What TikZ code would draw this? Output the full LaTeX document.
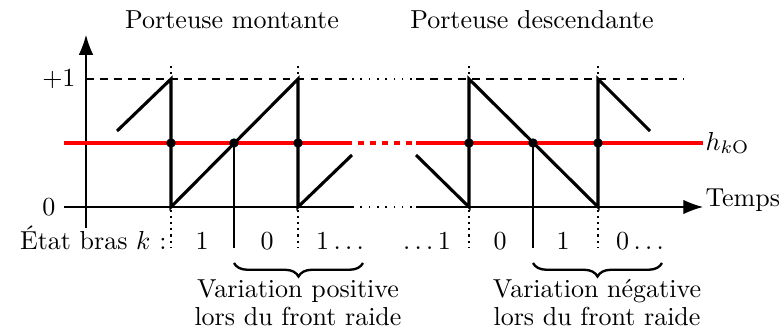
\documentclass[tikz,border=0pt]{standalone}
\usetikzlibrary{arrows.meta,decorations.pathreplacing}
\begin{document}
\begin{tikzpicture}[x=0.3846pt,y=-0.3846pt,
  axisline/.style={line width=0.45pt},
  sawline/.style={line width=1.2pt, line join=miter, line cap=butt},
  hred/.style={red, line width=1.9pt},
  guide/.style={line width=0.4pt, dash pattern=on 3pt off 2.4pt},
  dotguide/.style={line width=0.4pt, dash pattern=on 0.6pt off 2.6pt},
  vguide/.style={line width=0.4pt, dash pattern=on 0.8pt off 1.6pt},
  thinline/.style={line width=0.4pt},
  dotpt/.style={circle, fill=black, inner sep=0pt, minimum size=3.6pt},
  lbl/.style={inner sep=0pt},
  tip/.style={-{Latex[length=7.6pt,width=5.6pt]}},
  bracestyle/.style={line width=0.9pt, decorate, decoration={brace, mirror, amplitude=5.2pt}}
]
\useasboundingbox (0,0) rectangle (779,336);

% coordinates
\coordinate (Obot) at (86,228);
\coordinate (Otop) at (86,35);
\coordinate (b0) at (64,207);
\coordinate (b1) at (352,207);
\coordinate (b2) at (416,207);
\coordinate (b3) at (703,207);
\coordinate (p0) at (86,79);
\coordinate (p1) at (352,79);
\coordinate (p2) at (416,79);
\coordinate (p3) at (683,79);
\coordinate (r0) at (64,143);
\coordinate (r1) at (352,143);
\coordinate (r2) at (416,143);
\coordinate (r3) at (703,143);

% vertical dotted guides
\foreach \xx/\nm in {171/v1,298/v2,469/v3,598/v4}{
  \coordinate (\nm top) at (\xx,66);
  \coordinate (\nm bot) at (\xx,248);
  \draw[vguide] (\nm top) -- (\nm bot);
}

% axes
\draw[axisline,tip] (Obot) -- (Otop);
\draw[axisline] (b0) -- (b1);
\draw[dotguide] (b1) -- (b2);
\draw[axisline,tip] (b2) -- (b3);

% +1 level
\draw[guide] (p0) -- (p1);
\draw[dotguide] (p1) -- (p2);
\draw[guide] (p2) -- (p3);

% red carrier
\draw[hred] (r0) -- (r1);
\draw[hred, dash pattern=on 2.3pt off 2.3pt, dash phase=2.3pt] (r1) -- (r2);
\draw[hred] (r2) -- (r3);

% saw teeth
\coordinate (s1) at (117,131);
\coordinate (t1) at (171,79);
\coordinate (u1) at (171,207);
\coordinate (t2) at (298,79);
\coordinate (u2) at (298,207);
\coordinate (s2) at (352,155);
\draw[sawline] (s1) -- (t1) -- (u1) -- (t2) -- (u2) -- (s2);
\coordinate (s3) at (416,155);
\coordinate (u3) at (469,207);
\coordinate (t3) at (469,79);
\coordinate (u4) at (598,207);
\coordinate (t4) at (598,79);
\coordinate (s4) at (650,131);
\draw[sawline] (s3) -- (u3) -- (t3) -- (u4) -- (t4) -- (s4);

% crossing lines
\coordinate (c1) at (234,143);
\coordinate (c1b) at (234,248);
\coordinate (c2) at (533,143);
\coordinate (c2b) at (533,248);
\draw[thinline] (c1) -- (c1b);
\draw[thinline] (c2) -- (c2b);

% dots
\node[dotpt] (d1) at (171,143) {};
\node[dotpt] (d2) at (c1) {};
\node[dotpt] (d3) at (298,143) {};
\node[dotpt] (d4) at (469,143) {};
\node[dotpt] (d5) at (c2) {};
\node[dotpt] (d6) at (598,143) {};

% labels
\node[lbl] (title1) at (232,20) {Porteuse montante};
\node[lbl] (title2) at (532,20) {Porteuse descendante};
\node[lbl, anchor=east] (plusone) at (76,79) {$+1$};
\node[lbl, anchor=east] (zero) at (56,207) {$0$};
\node[lbl, anchor=base west] (temps) at (705,207) {Temps};
\node[lbl, anchor=west] (hko) at (705,143) {$h_{k\mathrm{O}}$};

\node[lbl, anchor=base east] (etat) at (167,250) {État bras $k$ :};
\node[lbl, anchor=base] (e1) at (202,250) {$1$};
\node[lbl, anchor=base] (e2) at (267,250) {$0$};
\node[lbl, anchor=base] (e3) at (340,250) {$1\ldots$};
\node[lbl, anchor=base] (e4) at (427,250) {$\ldots1$};
\node[lbl, anchor=base] (e5) at (500,250) {$0$};
\node[lbl, anchor=base] (e6) at (563,250) {$1$};
\node[lbl, anchor=base] (e7) at (640,250) {$0\ldots$};

% braces
\coordinate (br1a) at (234,263);
\coordinate (br1b) at (363,263);
\coordinate (br2a) at (533,263);
\coordinate (br2b) at (662,263);
\draw[bracestyle] (br1a) -- (br1b);
\draw[bracestyle] (br2a) -- (br2b);

\node[lbl, anchor=base] (vp1) at (298,297) {Variation positive};
\node[lbl, anchor=base] (vp2) at (298,325) {lors du front raide};
\node[lbl, anchor=base] (vn1) at (597,297) {Variation négative};
\node[lbl, anchor=base] (vn2) at (597,325) {lors du front raide};
\end{tikzpicture}
\end{document}
